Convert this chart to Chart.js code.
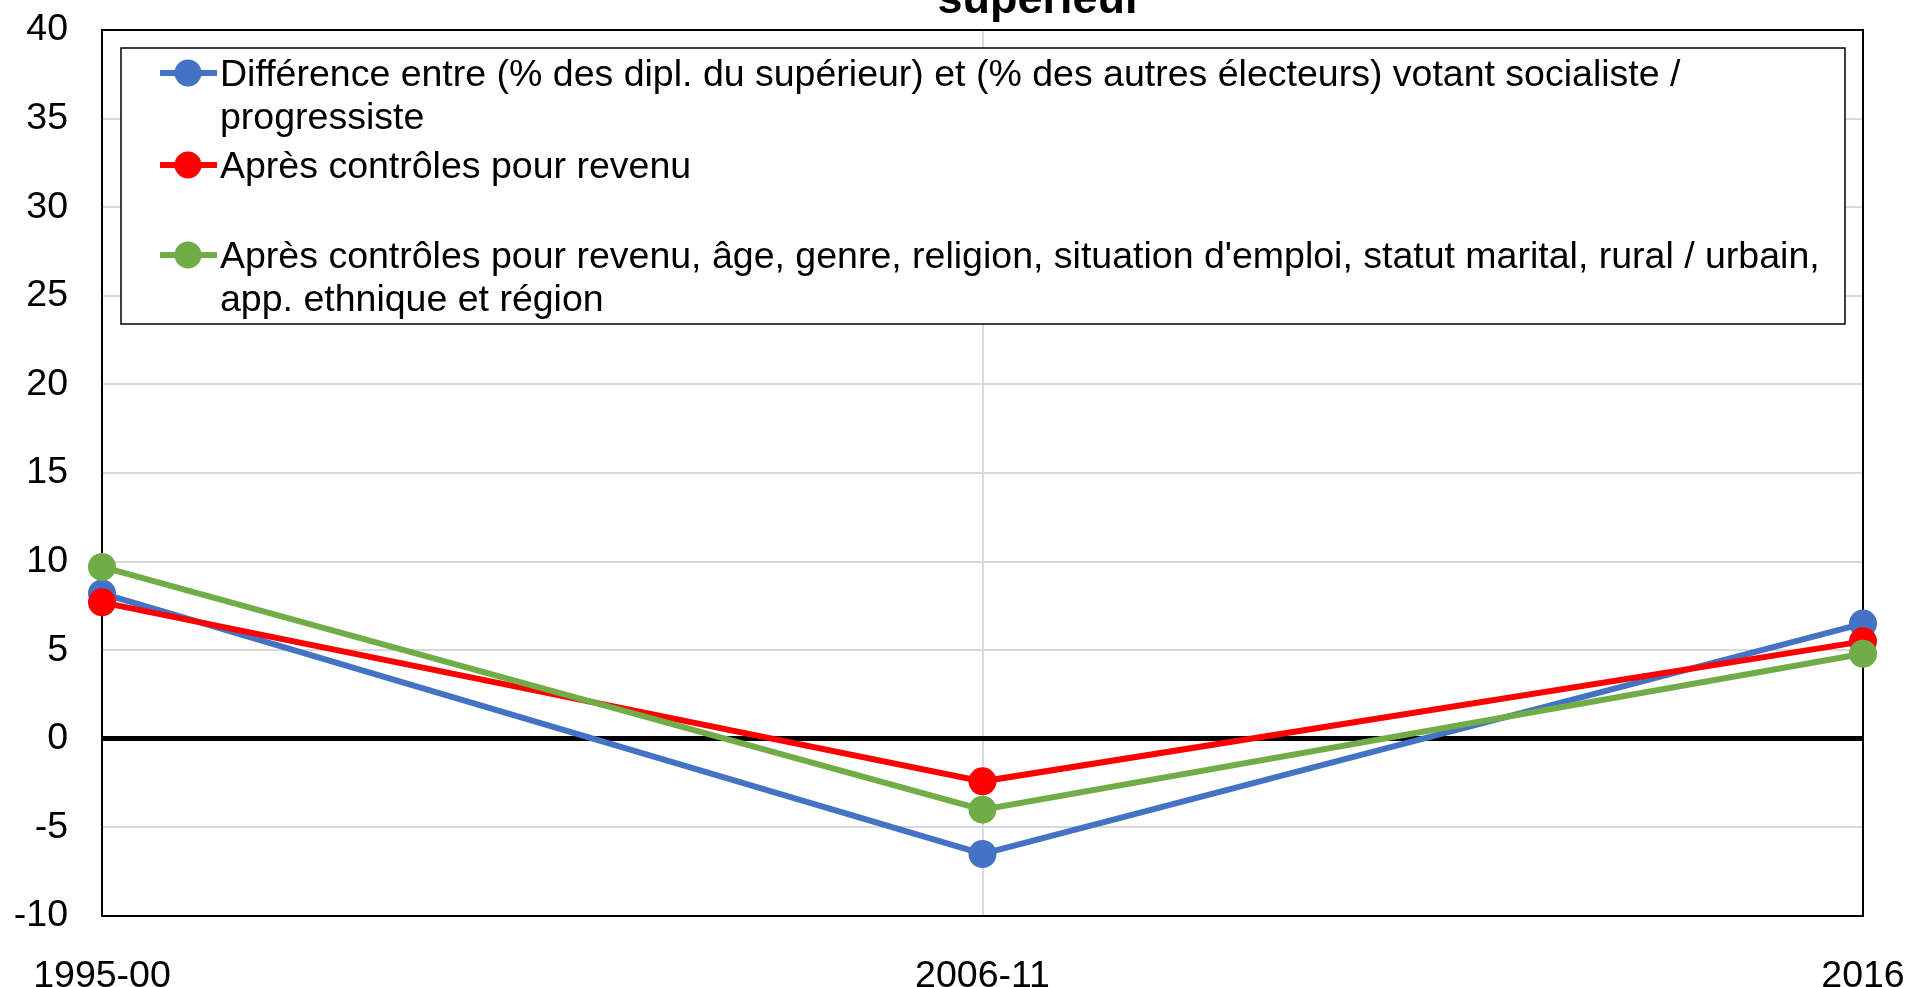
<!DOCTYPE html>
<html lang="fr">
<head>
<meta charset="utf-8">
<title>Diplômés du supérieur</title>
<script src="https://cdn.jsdelivr.net/npm/chart.js@4.4.1/dist/chart.umd.min.js"></script>
<style>
    html, body { margin: 0; padding: 0; background: #ffffff; }
    #graphique { display: block; }
</style>
</head>
<body>
<canvas id="graphique" width="1910" height="987"></canvas>
<script>
// Données du graphique
const categories = ['1995-00', '2006-11', '2016'];
const diffBrute = [8.2, -6.5, 6.5];
const apresRevenu = [7.7, -2.4, 5.5];
const apresTout = [9.7, -4.0, 4.8];

// Graduations de l'axe vertical
const yMin = -10;
const yMax = 40;
const yPas = 5;

// Textes (légende sur plusieurs lignes, comme dans l'original)
const titreVisible = 'supérieur';
const legendeBrute = ['Différence entre (% des dipl. du supérieur) et (% des autres électeurs) votant socialiste /', 'progressiste'];
const legendeRevenu = ['Après contrôles pour revenu'];
const legendeTout = ["Après contrôles pour revenu, âge, genre, religion, situation d'emploi, statut marital, rural / urbain,", 'app. ethnique et région'];

const POLICE = '"Liberation Sans", Arial, sans-serif';
const BLEU = '#4472C4';
const ROUGE = '#FF0000';
const VERT = '#70AD47';

function serie(label, data, couleur, ordre) {
    return {
        label: label,
        data: data,
        borderColor: couleur,
        backgroundColor: couleur,
        borderWidth: 6,
        pointRadius: 14,
        pointHoverRadius: 14,
        pointBorderWidth: 0,
        tension: 0,
        order: ordre
    };
}

// pas de marge automatique : la zone de traçage est fixée par layout.padding
function sansMarge(scale) {
    scale.paddingLeft = 0;
    scale.paddingRight = 0;
    scale.paddingTop = 0;
    scale.paddingBottom = 0;
}

// Titre (seule la fin est visible en haut de l'image)
const pluginTitre = {
    id: 'titre',
    afterDraw(chart) {
        const ctx = chart.ctx;
        ctx.save();
        ctx.fillStyle = '#000000';
        ctx.font = 'bold 45px ' + POLICE;
        ctx.textAlign = 'center';
        ctx.textBaseline = 'alphabetic';
        ctx.fillText(titreVisible, 1040, 13);
        ctx.restore();
    }
};

// Cadre de la zone de traçage
const pluginCadre = {
    id: 'cadre',
    beforeDatasetsDraw(chart) {
        const a = chart.chartArea;
        const ctx = chart.ctx;
        ctx.save();
        ctx.strokeStyle = '#000000';
        ctx.lineWidth = 2;
        ctx.strokeRect(a.left, a.top, a.right - a.left, a.bottom - a.top);
        ctx.restore();
    }
};

// Légende encadrée avec texte sur plusieurs lignes
const pluginLegende = {
    id: 'legendeEncadree',
    afterDatasetsDraw(chart) {
        const ctx = chart.ctx;
        const boite = { x: 121, y: 48, w: 1724, h: 276 };
        ctx.save();
        ctx.fillStyle = '#ffffff';
        ctx.fillRect(boite.x, boite.y, boite.w, boite.h);
        ctx.strokeStyle = '#000000';
        ctx.lineWidth = 1.5;
        ctx.strokeRect(boite.x, boite.y, boite.w, boite.h);

        const entrees = [
            { lignes: legendeBrute, couleur: BLEU },
            { lignes: legendeRevenu, couleur: ROUGE },
            { lignes: legendeTout, couleur: VERT }
        ];
        const premiereLigne = [86, 178, 268];
        const interligne = 43;
        ctx.font = '37.5px ' + POLICE;
        ctx.textAlign = 'left';
        ctx.textBaseline = 'alphabetic';
        entrees.forEach((e, i) => {
            const yb = premiereLigne[i];
            const ym = yb - 13;
            ctx.strokeStyle = e.couleur;
            ctx.lineWidth = 6;
            ctx.beginPath();
            ctx.moveTo(160, ym);
            ctx.lineTo(217, ym);
            ctx.stroke();
            ctx.fillStyle = e.couleur;
            ctx.beginPath();
            ctx.arc(188, ym, 13.5, 0, Math.PI * 2);
            ctx.fill();
            ctx.fillStyle = '#000000';
            e.lignes.forEach((t, k) => {
                ctx.fillText(t, 220, yb + k * interligne);
            });
        });
        ctx.restore();
    }
};

const ctx = document.getElementById('graphique');
new Chart(ctx, {
    type: 'line',
    data: {
        labels: categories,
        datasets: [
            serie(legendeBrute.join(' '), diffBrute, BLEU, 3),
            serie(legendeRevenu.join(' '), apresRevenu, ROUGE, 2),
            serie(legendeTout.join(' '), apresTout, VERT, 1)
        ]
    },
    options: {
        responsive: false,
        animation: false,
        events: [],
        layout: {
            padding: { top: 30, right: 47, bottom: 0, left: 0 }
        },
        plugins: {
            legend: { display: false },
            title: { display: false },
            tooltip: { enabled: false }
        },
        scales: {
            x: {
                offset: false,
                afterFit(scale) { scale.height = 71; sansMarge(scale); },
                grid: {
                    color: '#d9d9d9',
                    lineWidth: 2,
                    drawTicks: false
                },
                border: { display: false },
                ticks: {
                    color: '#000000',
                    padding: 38,
                    maxRotation: 0,
                    font: { family: POLICE, size: 37.5 }
                }
            },
            y: {
                min: yMin,
                max: yMax,
                afterFit(scale) { scale.width = 102; sansMarge(scale); },
                grid: {
                    color: c => c.tick && c.tick.value === 0 ? '#000000' : '#d9d9d9',
                    lineWidth: c => c.tick && c.tick.value === 0 ? 5 : 2,
                    drawTicks: false
                },
                border: { display: false },
                ticks: {
                    stepSize: yPas,
                    color: '#000000',
                    padding: 34,
                    font: { family: POLICE, size: 37.5 }
                }
            }
        }
    },
    plugins: [pluginTitre, pluginCadre, pluginLegende]
});
</script>
</body>
</html>
